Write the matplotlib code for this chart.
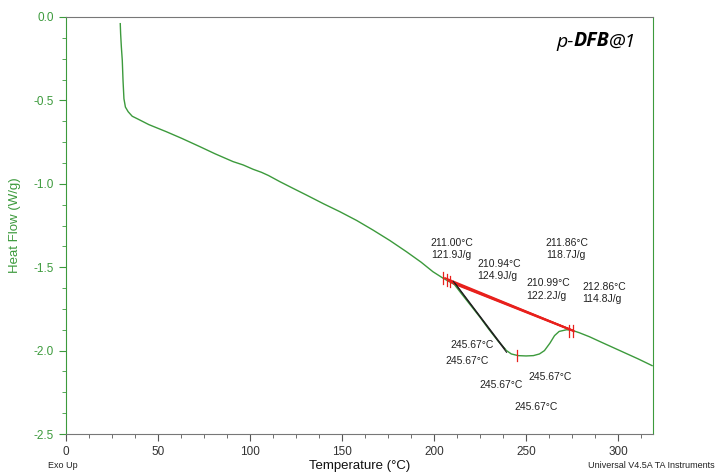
import matplotlib.pyplot as plt
from matplotlib.ticker import MultipleLocator

plt.rcParams['font.family'] = ['Liberation Sans', 'DejaVu Sans']

# DSC curve
temp = [29.5, 29.7, 30.1, 30.6, 31.0, 31.5, 32.3, 33.8, 36.0, 39.3, 45.0, 54.6,
        63.0, 72.7, 81.0, 90.8, 96.3, 101.7, 106.2, 110.0, 116.2, 123.0, 130.6,
        140.0, 148.8, 158.0, 166.8, 176.0, 185.0, 193.0, 199.4, 204.8, 208.0,
        211.0, 215.0, 220.0, 225.0, 230.0, 235.0, 239.4, 242.0, 245.7, 250.0,
        254.0, 257.3, 260.0, 263.0, 265.5, 268.0, 272.0, 275.0, 279.0, 284.5,
        290.0, 297.0, 304.4, 311.0, 318.5]
heat_flow = [-0.04, -0.10, -0.18, -0.26, -0.38, -0.49, -0.54, -0.568, -0.595,
             -0.613, -0.645, -0.688, -0.728, -0.777, -0.82, -0.867, -0.887,
             -0.913, -0.931, -0.95, -0.987, -1.025, -1.067, -1.12, -1.167,
             -1.22, -1.277, -1.34, -1.407, -1.47, -1.527, -1.565, -1.585,
             -1.603, -1.66, -1.73, -1.80, -1.875, -1.945, -2.0, -2.02, -2.03,
             -2.032, -2.03, -2.02, -2.0, -1.955, -1.91, -1.885, -1.875, -1.878,
             -1.893, -1.917, -1.945, -1.98, -2.017, -2.05, -2.09]

# integration baselines (start T, start Y, end T, end Y)
base_t0 = [206.0, 208.0, 209.5, 211.0]
base_y0 = [-1.565, -1.580, -1.590, -1.600]
base_t1 = [275.5, 274.5, 275.0, 276.0]
base_y1 = [-1.880, -1.875, -1.878, -1.884]

# onset tangents
tan_t0 = [210.5, 211.5]
tan_y0 = [-1.585, -1.597]
tan_t1 = [239.4, 238.5]
tan_y1 = [-2.01, -1.99]

# red limit markers
mark_t = [204.7, 206.9, 208.7, 273.5, 275.7, 245.3]
mark_y = [-1.565, -1.575, -1.585, -1.883, -1.883, -2.03]

# annotation texts and their positions
peak_labels = ["211.00°C\n121.9J/g", "210.94°C\n124.9J/g", "211.86°C\n118.7J/g",
               "210.99°C\n122.2J/g", "212.86°C\n114.8J/g"]
peak_lab_t = [198.2, 223.4, 260.7, 250.0, 280.4]
peak_lab_y = [-1.391, -1.517, -1.391, -1.634, -1.655]
onset_labels = ["245.67°C"] * 5
onset_lab_t = [208.7, 206.4, 224.5, 251.1, 243.5]
onset_lab_y = [-1.966, -2.061, -2.206, -2.157, -2.338]

green = '#3c9a3c'
fig = plt.figure(figsize=(7.21, 4.76), dpi=100)
ax = fig.add_axes([0.0915, 0.0882, 0.8142, 0.8761])

ax.plot(temp, heat_flow, color=green, lw=1.0, zorder=3)
for t0, y0, t1, y1 in zip(base_t0, base_y0, base_t1, base_y1):
    ax.plot([t0, t1], [y0, y1], color='#e8201c', lw=1.3, zorder=4)
for t0, y0, t1, y1 in zip(tan_t0, tan_y0, tan_t1, tan_y1):
    ax.plot([t0, t1], [y0, y1], color='#202020', lw=0.8, zorder=5)
for t, y in zip(mark_t, mark_y):
    ax.plot([t, t], [y - 0.035, y + 0.035], color='#e8201c', lw=0.9, zorder=6)

for s, t, y in zip(peak_labels, peak_lab_t, peak_lab_y):
    ax.text(t, y, s, fontsize=7.5, color='#222222', ha='left', va='center',
            linespacing=1.3)
for s, t, y in zip(onset_labels, onset_lab_t, onset_lab_y):
    ax.text(t, y, s, fontsize=7.5, color='#222222', ha='left', va='center')

# sample label, p-DFB@1
t1 = ax.text(0.835, 0.94, "p-", transform=ax.transAxes, fontsize=14,
             style='italic', family='Open Sans', ha='left', va='center')
t2 = ax.annotate("DFB", xy=(1, 0), xycoords=t1, fontsize=14, style='italic',
                 weight='bold', family='Open Sans', ha='left', va='bottom')
ax.annotate("@1", xy=(1, 0), xycoords=t2, fontsize=14, style='italic',
            family='Open Sans', ha='left', va='bottom')

ax.set_xlim(0, 319)
ax.set_ylim(-2.5, 0)
ax.xaxis.set_major_locator(MultipleLocator(50))
ax.xaxis.set_minor_locator(MultipleLocator(12.5))
ax.yaxis.set_major_locator(MultipleLocator(0.5))
ax.yaxis.set_minor_locator(MultipleLocator(0.125))
ax.yaxis.set_major_formatter(plt.FuncFormatter(lambda v, p: f"{v:.1f}"))

ax.tick_params(axis='y', which='both', direction='out', colors=green,
               labelsize=8.5, left=True, right=False)
ax.tick_params(axis='y', which='major', length=5)
ax.tick_params(axis='y', which='minor', length=3)
ax.tick_params(axis='x', which='both', direction='out', color='#555555',
               labelcolor='#333333', labelsize=8.5, top=False)
ax.tick_params(axis='x', which='major', length=5)
ax.tick_params(axis='x', which='minor', length=3)

for side in ['left', 'right']:
    ax.spines[side].set_color(green)
for side in ['top', 'bottom']:
    ax.spines[side].set_color('#777777')

ax.set_xlabel("Temperature (°C)", fontsize=9.5, color='#111111')
ax.xaxis.set_label_coords(0.5, -0.063)
ax.set_ylabel("Heat Flow (W/g)", fontsize=9.5, color=green)
ax.yaxis.set_label_coords(-0.076, 0.5)

fig.text(48 / 721, 1 - 465 / 476, "Exo Up", fontsize=6.5, ha='left',
         va='center', color='#222222')
fig.text(715 / 721, 1 - 465 / 476, "Universal V4.5A TA Instruments",
         fontsize=6.5, ha='right', va='center', color='#222222')

fig.savefig("out.png", dpi=100)
